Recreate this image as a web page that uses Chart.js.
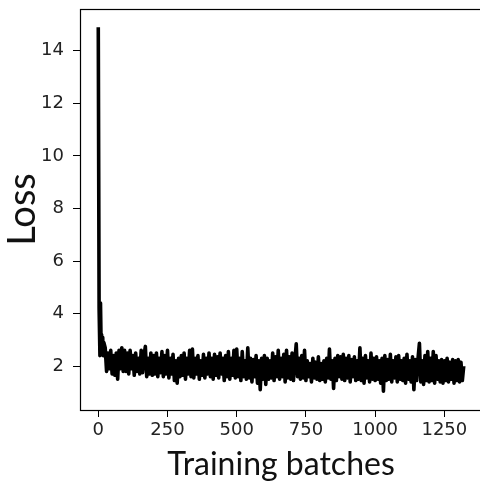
<!DOCTYPE html>
<html>
<head>
<meta charset="utf-8">
<script src="https://cdn.jsdelivr.net/npm/chart.js@4/dist/chart.umd.min.js"></script>
<style>
  html, body { margin: 0; padding: 0; background: #fff; overflow: hidden; }
  #wrap { width: 480px; height: 484px; overflow: hidden; }
  canvas { display: block; }
</style>
</head>
<body>
<div id="wrap"><canvas id="chart" width="500" height="484"></canvas></div>
<script>
// first steep drop, read point by point
const startBatches = [0, 3, 6, 8, 10, 12, 14, 16, 18, 20];
const startLoss = [14.9, 4.2, 2.4, 4.4, 3.0, 3.2, 2.6, 3.1, 2.4, 2.9];

// after batch 20 the loss is read every 5 batches
const stepStart = 25;
const sampleStep = 5;
const stepLoss = [
  // 25 - 95
  2.7, 1.8, 2.5, 1.9, 2.6, 1.7, 2.4, 1.65, 2.5, 1.5, 2.6, 1.9, 2.7, 1.8, 2.6,
  // 100 - 195
  1.8, 2.5, 1.7, 2.6, 1.9, 2.4, 1.65, 2.5, 1.8, 2.3, 1.7, 2.6, 1.75, 2.4, 2.75, 1.6, 2.3, 1.7, 2.5, 1.65,
  // 200 - 295
  2.4, 1.7, 2.5, 1.6, 2.3, 1.75, 2.55, 1.6, 2.4, 1.7, 2.6, 1.55, 2.3, 1.7, 2.45, 1.45, 2.2, 1.35, 2.3, 1.6,
  // 300 - 395
  2.4, 1.65, 2.5, 1.5, 2.3, 1.7, 2.6, 1.6, 2.65, 1.55, 2.3, 1.7, 2.4, 1.5, 2.2, 1.65, 2.45, 1.55, 2.3, 1.7,
  // 400 - 495
  2.5, 1.6, 2.3, 1.5, 2.45, 1.65, 2.35, 1.55, 2.5, 1.7, 2.3, 1.45, 2.4, 1.6, 2.55, 1.5, 2.3, 1.65, 2.6, 1.55,
  // 500 - 595
  2.65, 1.6, 2.3, 1.45, 2.55, 1.6, 2.2, 1.5, 2.7, 1.55, 2.3, 1.4, 2.25, 1.6, 2.4, 1.35, 2.2, 1.1, 2.3, 1.5,
  // 600 - 695
  2.4, 1.3, 2.3, 1.5, 2.2, 1.55, 2.5, 1.45, 2.35, 1.6, 2.6, 1.5, 2.3, 1.6, 2.45, 1.4, 2.6, 1.55, 2.35, 1.5,
  // 700 - 795
  2.5, 1.45, 2.2, 2.85, 1.6, 2.3, 1.5, 2.4, 1.55, 2.6, 1.45, 2.2, 1.6, 2.1, 1.4, 2.3, 1.55, 2.15, 1.5, 2.35,
  // 800 - 895
  1.45, 2.1, 1.5, 2.2, 1.4, 2.3, 1.55, 2.65, 1.5, 2.2, 1.15, 2.3, 1.45, 2.4, 1.6, 2.35, 1.5, 2.45, 1.45, 2.3,
  // 900 - 995
  1.55, 2.4, 1.4, 2.25, 1.6, 2.35, 1.45, 2.2, 1.5, 2.7, 1.45, 2.3, 1.35, 2.4, 1.55, 2.2, 1.4, 2.5, 1.5, 2.3,
  // 1000 - 1095
  1.45, 2.35, 1.5, 2.2, 1.35, 2.3, 1.05, 2.4, 1.45, 2.25, 1.5, 2.45, 1.4, 2.2, 1.55, 2.35, 1.4, 2.4, 1.5, 2.2,
  // 1100 - 1195
  1.45, 2.3, 1.35, 2.45, 1.5, 2.2, 1.4, 2.35, 1.1, 2.25, 1.45, 2.3, 2.87, 1.4, 2.2, 1.3, 2.4, 1.45, 2.55, 1.4,
  // 1200 - 1320
  2.3, 1.45, 2.55, 1.35, 2.4, 1.5, 2.2, 1.4, 2.25, 1.35, 2.2, 1.45, 2.3, 1.4, 2.15, 1.5, 2.25, 1.35, 2.2, 1.45,
  2.25, 1.4, 2.15, 1.45, 2.0
];

const xTicks = [0, 250, 500, 750, 1000, 1250];
const yTicks = [2, 4, 6, 8, 10, 12, 14];

const points = startBatches.map((b, i) => ({ x: b, y: startLoss[i] }));
stepLoss.forEach((v, i) => points.push({ x: stepStart + i * sampleStep, y: v }));

const tickFont = { family: "'DejaVu Sans'", size: 18 };

const frame = {
  id: 'frame',
  afterDraw(chart) {
    const a = chart.chartArea;
    const ctx = chart.ctx;
    ctx.save();
    ctx.strokeStyle = '#000';
    ctx.lineWidth = 1.2;
    ctx.strokeRect(a.left + 0.5, a.top + 0.5, a.right - a.left, a.bottom - a.top);
    ctx.restore();
  }
};

new Chart(document.getElementById('chart').getContext('2d'), {
  type: 'line',
  data: {
    datasets: [{
      data: points,
      borderColor: '#000',
      borderWidth: 3.6,
      borderJoinStyle: 'round',
      pointRadius: 0,
      tension: 0,
      fill: false
    }]
  },
  options: {
    responsive: false,
    animation: false,
    layout: { padding: { left: 0, top: 9, right: 18, bottom: 0 } },
    plugins: { legend: { display: false }, tooltip: { enabled: false } },
    scales: {
      x: {
        type: 'linear',
        min: -66,
        max: 1386,
        afterFit(scale) {
          scale.height = 74;
          scale.paddingLeft = 0;
          scale.paddingRight = 0;
        },
        afterBuildTicks(scale) { scale.ticks = xTicks.map(v => ({ value: v })); },
        grid: { drawOnChartArea: false, drawTicks: true, tickLength: 7, color: '#000' },
        border: { display: false },
        ticks: { font: tickFont, color: '#222', padding: 3, maxRotation: 0, callback: v => String(v) },
        title: { display: true, text: 'Training batches', font: { family: 'Lato', size: 32 }, color: '#111', padding: { top: 0, bottom: 0 } }
      },
      y: {
        min: 0.33,
        max: 15.59,
        afterFit(scale) {
          scale.width = 80;
          scale.paddingTop = 0;
          scale.paddingBottom = 0;
        },
        afterBuildTicks(scale) { scale.ticks = yTicks.map(v => ({ value: v })); },
        grid: { drawOnChartArea: false, drawTicks: true, tickLength: 7, color: '#000' },
        border: { display: false },
        ticks: { font: tickFont, color: '#222', padding: 9, callback: v => String(v) },
        title: { display: true, text: 'Loss', font: { family: 'Lato', size: 38 }, color: '#111', padding: { top: 0, bottom: 0 } }
      }
    }
  },
  plugins: [frame]
});
</script>
</body>
</html>
